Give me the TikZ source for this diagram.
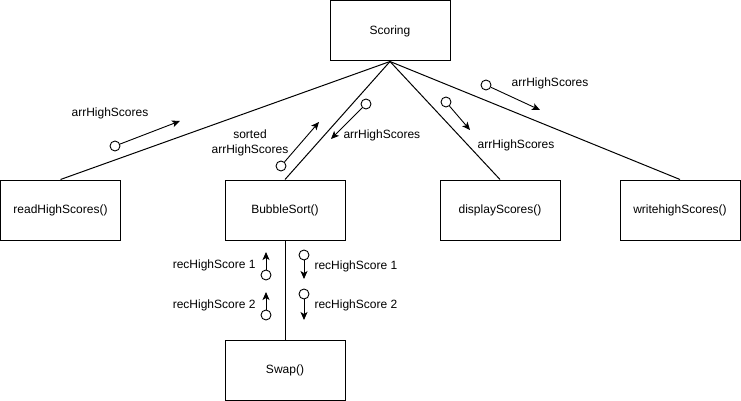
\documentclass[tikz,border=0pt]{standalone}
\usepackage{fontspec}
\setmainfont{Liberation Sans}
\usetikzlibrary{arrows.meta}
\begin{document}
\begin{tikzpicture}[x=1pt,y=-1pt, line width=1pt,
 box/.style={draw, minimum width=120pt, minimum height=60pt, inner sep=0pt, font=\fontsize{12}{14}\selectfont},
 port/.style={draw, circle, minimum size=10pt, inner sep=0pt, line width=0.9pt},
 flow/.style={-{Stealth[length=8pt,width=7pt,inset=2pt]}, line width=0.9pt},
 lbl/.style={font=\fontsize{12}{15}\selectfont, inner sep=0pt, align=center}]
\useasboundingbox (0,0) rectangle (741,401);
\node[box] (scoring) at (390,31) {Scoring};
\node[box] (read) at (60.5,210) {readHighScores()};
\node[box] (bubble) at (285,210) {BubbleSort()};
\node[box] (display) at (500,210) {displayScores()};
\node[box] (write) at (680,210) {writehighScores()};
\node[box] (swap) at (285,370) {Swap()};
\draw (scoring.south) -- (read.north);
\draw (scoring.south) -- (bubble.north);
\draw (scoring.south) -- (display.north);
\draw (scoring.south) -- (write.north);
\draw (bubble.south) -- (swap.north);
% flows
\node[port] (p1) at (115,146) {}; \coordinate (t1) at (180,121);
\draw[flow] (p1) -- (t1);
\node[lbl] (l1) at (110,113) {arrHighScores};
\node[port] (p2) at (281,166) {}; \coordinate (t2) at (319,122);
\draw[flow] (p2) -- (t2);
\node[lbl] (l2) at (250,143) {sorted\\arrHighScores};
\node[port] (p3) at (366,104) {}; \coordinate (t3) at (331,139);
\draw[flow] (p3) -- (t3);
\node[lbl, anchor=west] (l3) at (343,135) {arrHighScores};
\node[port] (p4) at (446,102) {}; \coordinate (t4) at (470,130);
\draw[flow] (p4) -- (t4);
\node[lbl] (l4) at (516,145) {arrHighScores};
\node[port] (p5) at (486,85) {}; \coordinate (t5) at (540,110);
\draw[flow] (p5) -- (t5);
\node[lbl] (l5) at (550,83) {arrHighScores};
\node[port] (p6) at (266,275) {}; \coordinate (t6) at (266,252);
\draw[flow] (p6) -- (t6);
\node[lbl, anchor=east] (l6) at (256,265) {recHighScore 1};
\node[port] (p7) at (266,315) {}; \coordinate (t7) at (266,292);
\draw[flow] (p7) -- (t7);
\node[lbl, anchor=east] (l7) at (256,305) {recHighScore 2};
\node[port] (p8) at (304,255) {}; \coordinate (t8) at (304,279);
\draw[flow] (p8) -- (t8);
\node[lbl, anchor=west] (l8) at (314,266) {recHighScore 1};
\node[port] (p9) at (304,294) {}; \coordinate (t9) at (304,320);
\draw[flow] (p9) -- (t9);
\node[lbl, anchor=west] (l9) at (314,305) {recHighScore 2};
\end{tikzpicture}
\end{document}
